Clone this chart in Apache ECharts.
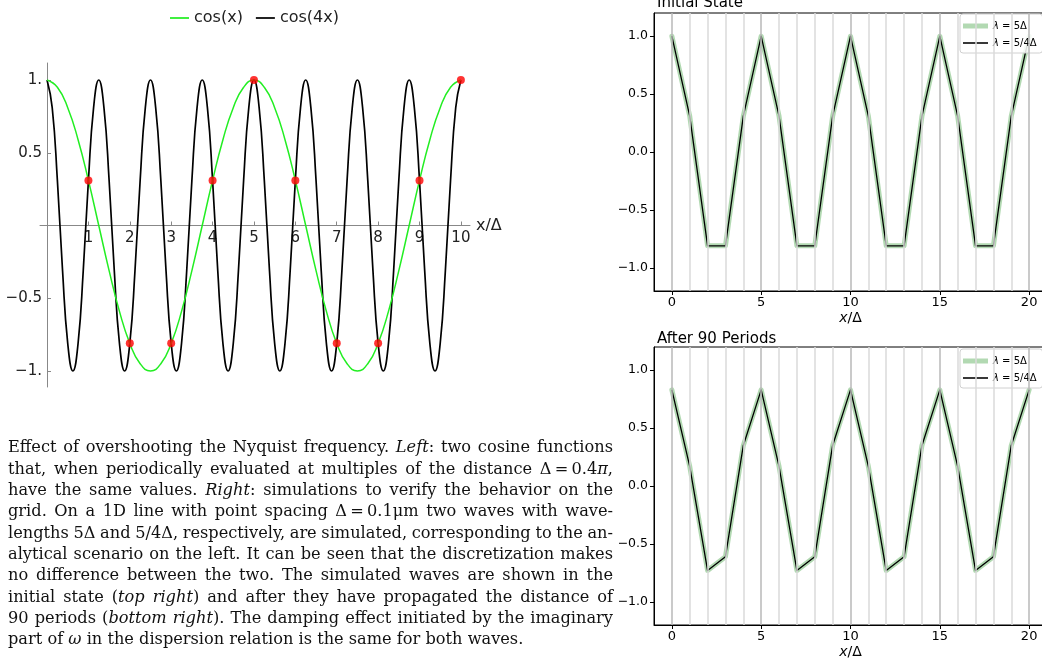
<!DOCTYPE html>
<html>
<head>
<meta charset="utf-8">
<script src="https://cdn.jsdelivr.net/npm/echarts@6/dist/echarts.min.js"></script>
<style>
  html, body { margin: 0; padding: 0; background: #fff; }
  #chart { width: 1042px; height: 664px; }
</style>
</head>
<body>
<div id="chart"></div>
<script>
// left panel: cos(x) and cos(4x) sampled along x/Δ (Δ = 0.4π)
const fineStep = 0.125;
const coarseStep = 0.25;
const cos4xValues = [
  1, 0.81, 0.31, -0.31, -0.81, -1, -0.81, -0.31, 0.31, 0.81,
  1, 0.81, 0.31, -0.31, -0.81, -1, -0.81, -0.31, 0.31, 0.81,
  1, 0.81, 0.31, -0.31, -0.81, -1, -0.81, -0.31, 0.31, 0.81,
  1, 0.81, 0.31, -0.31, -0.81, -1, -0.81, -0.31, 0.31, 0.81,
  1, 0.81, 0.31, -0.31, -0.81, -1, -0.81, -0.31, 0.31, 0.81,
  1, 0.81, 0.31, -0.31, -0.81, -1, -0.81, -0.31, 0.31, 0.81,
  1, 0.81, 0.31, -0.31, -0.81, -1, -0.81, -0.31, 0.31, 0.81,
  1, 0.81, 0.31, -0.31, -0.81, -1, -0.81, -0.31, 0.31, 0.81,
  1
];
const cosxValues = [
  1, 0.95, 0.81, 0.59, 0.31, 0, -0.31, -0.59, -0.81, -0.95,
  -1, -0.95, -0.81, -0.59, -0.31, 0, 0.31, 0.59, 0.81, 0.95,
  1, 0.95, 0.81, 0.59, 0.31, 0, -0.31, -0.59, -0.81, -0.95,
  -1, -0.95, -0.81, -0.59, -0.31, 0, 0.31, 0.59, 0.81, 0.95,
  1
];
const sampleX = [1, 2, 3, 4, 5, 6, 7, 8, 9, 10];
const sampleValues = [0.31, -0.81, -0.81, 0.31, 1, 0.31, -0.81, -0.81, 0.31, 1];
const leftXTicks = [1, 2, 3, 4, 5, 6, 7, 8, 9, 10];
const leftYTicks = [-1, -0.5, 0.5, 1];

// right panels: simulated waves on the grid points
const gridX = [0, 1, 2, 3, 4, 5, 6, 7, 8, 9, 10, 11, 12, 13, 14, 15, 16, 17, 18, 19, 20];
const initialLong = [1, 0.31, -0.81, -0.81, 0.31, 1, 0.31, -0.81, -0.81, 0.31, 1, 0.31, -0.81, -0.81, 0.31, 1, 0.31, -0.81, -0.81, 0.31, 1];
const initialShort = [1, 0.31, -0.81, -0.81, 0.31, 1, 0.31, -0.81, -0.81, 0.31, 1, 0.31, -0.81, -0.81, 0.31, 1, 0.31, -0.81, -0.81, 0.31, 1];
const afterLong = [0.83, 0.17, -0.73, -0.61, 0.35, 0.83, 0.17, -0.73, -0.61, 0.35, 0.83, 0.17, -0.73, -0.61, 0.35, 0.83, 0.17, -0.73, -0.61, 0.35, 0.83];
const afterShort = [0.83, 0.17, -0.73, -0.61, 0.35, 0.83, 0.17, -0.73, -0.61, 0.35, 0.83, 0.17, -0.73, -0.61, 0.35, 0.83, 0.17, -0.73, -0.61, 0.35, 0.83];
const rightXTicks = [0, 5, 10, 15, 20];
const rightYTicks = [-1, -0.5, 0, 0.5, 1];

const captionLines = [
  'Effect of overshooting the Nyquist frequency. {i|Left}: two cosine functions',
  'that, when periodically evaluated at multiples of the distance Δ\u2009=\u20090.4{i|π},',
  'have the same values. {i|Right}: simulations to verify the behavior on the',
  'grid. On a 1D line with point spacing Δ\u2009=\u20090.1μm two waves with wave-',
  'lengths 5Δ and 5/4Δ, respectively, are simulated, corresponding to the an-',
  'alytical scenario on the left. It can be seen that the discretization makes',
  'no difference between the two. The simulated waves are shown in the',
  'initial state ({i|top} {i|right}) and after they have propagated the distance of',
  '90 periods ({i|bottom} {i|right}). The damping effect initiated by the imaginary',
  'part of {i|ω} in the dispersion relation is the same for both waves.'
];

const sans = '"DejaVu Sans", sans-serif';
const serif = '"DejaVu Serif", serif';
const pairs = (xs, ys) => ys.map((y, i) => [xs[i], y]);
const stepX = (ys, step) => ys.map((_, i) => i * step);
const minus = v => (v < 0 ? '\u2212' : '') + Math.abs(v);
const lineIcon = 'path://M0,0H11V1H0Z';
const thinIcon = 'path://M0,0H16V1H0Z';
const thickIcon = 'path://M0,0H5V1H0Z';

// justified caption, laid out word by word
const paraSize = 16.2, paraLeft = 8, paraRight = 613, paraTop = 448, paraLead = 21.35;
const ctx = document.createElement('canvas').getContext('2d');
function segments(word) {
  const out = [];
  const re = /\{i\|([^}]*)\}/g;
  let last = 0, m;
  while ((m = re.exec(word))) {
    if (m.index > last) out.push([word.slice(last, m.index), false]);
    out.push([m[1], true]);
    last = re.lastIndex;
  }
  if (last < word.length) out.push([word.slice(last), false]);
  return out;
}
function wordWidth(word, size) {
  return segments(word).reduce((s, [t, it]) => {
    ctx.font = (it ? 'italic ' : '') + size + 'px ' + serif;
    return s + ctx.measureText(t).width;
  }, 0);
}
const caption = [];
captionLines.forEach((line, li) => {
  const words = line.split(' ');
  let size = paraSize;
  let widths = words.map(w => wordWidth(w, size));
  let total = widths.reduce((a, b) => a + b, 0);
  // squeeze the font a little if a line would not fit
  while (total + 2.5 * (words.length - 1) > paraRight - paraLeft && size > 10) {
    size -= 0.2;
    widths = words.map(w => wordWidth(w, size));
    total = widths.reduce((a, b) => a + b, 0);
  }
  ctx.font = size + 'px ' + serif;
  const last = li === captionLines.length - 1;
  const gap = last ? ctx.measureText(' ').width : (paraRight - paraLeft - total) / (words.length - 1);
  let x = paraLeft;
  words.forEach((w, wi) => {
    caption.push({
      type: 'text', x: x, y: paraTop + li * paraLead, silent: true,
      style: {
        text: w, fill: '#111', fontSize: size, fontFamily: serif, verticalAlign: 'middle',
        rich: { i: { fontStyle: 'italic', fontSize: size, fontFamily: serif, fill: '#111' } }
      }
    });
    x += widths[wi] + gap;
  });
});

const gridLines = gridX.map(x => ({
  xAxis: x,
  lineStyle: { color: x % 5 === 0 ? '#b9b9b9' : '#dadada', width: 1.5, type: 'solid' }
}));

function rightPanel(idx, longVals, shortVals) {
  return [
    {
      type: 'line', xAxisIndex: idx, yAxisIndex: idx, data: [], z: 1, silent: true,
      markLine: { silent: true, symbol: ['none', 'none'], label: { show: false }, data: gridLines }
    },
    {
      name: 'λ = 5Δ', type: 'line', xAxisIndex: idx, yAxisIndex: idx, z: 2,
      data: pairs(gridX, longVals), symbol: 'none', showSymbol: false,
      lineStyle: { color: 'rgba(0,128,0,0.3)', width: 5, join: 'round', cap: 'round' },
      itemStyle: { color: 'rgba(0,128,0,0.3)' }
    },
    {
      name: 'λ = 5/4Δ', type: 'line', xAxisIndex: idx, yAxisIndex: idx, z: 3,
      data: pairs(gridX, shortVals), symbol: 'none', showSymbol: false,
      lineStyle: { color: '#000', width: 1.3, join: 'round' },
      itemStyle: { color: '#000' }
    }
  ];
}

function rightXAxis(idx) {
  return {
    gridIndex: idx, type: 'value', min: -1, max: 21,
    axisLine: { onZero: false, lineStyle: { color: '#000', width: 1 } },
    axisTick: { customValues: rightXTicks, length: 4, lineStyle: { color: '#000' } },
    axisLabel: { customValues: rightXTicks, margin: 5, fontSize: 13, color: '#000', fontFamily: sans },
    splitLine: { show: false },
    name: '{i|x}/Δ', nameLocation: 'middle', nameGap: 20,
    nameTextStyle: { fontSize: 14, color: '#000', fontFamily: sans,
      rich: { i: { fontStyle: 'italic', fontSize: 14, fontFamily: sans, color: '#000' } } }
  };
}
function rightYAxis(idx) {
  return {
    gridIndex: idx, type: 'value', min: -1.2, max: 1.2,
    axisLine: { onZero: false, lineStyle: { color: '#000', width: 1 } },
    axisTick: { customValues: rightYTicks, length: 4, lineStyle: { color: '#000' } },
    axisLabel: {
      customValues: rightYTicks, margin: 6, fontSize: 12.5, color: '#000', fontFamily: sans,
      formatter: v => (v < 0 ? '\u2212' : '') + Math.abs(v).toFixed(1)
    },
    splitLine: { show: false }
  };
}
function rightLegend(top) {
  return {
    orient: 'vertical', left: 960, top: top,
    data: [
      { name: 'λ = 5Δ', icon: thickIcon },
      { name: 'λ = 5/4Δ', icon: thinIcon }
    ],
    itemWidth: 25, itemHeight: 10, itemGap: 7,
    padding: [7, 6, 5, 3],
    backgroundColor: 'rgba(255,255,255,0.85)', borderColor: '#d0d0d0', borderWidth: 1, borderRadius: 3,
    formatter: name => name.replace('λ', '{i|λ}'),
    textStyle: { fontSize: 10, color: '#000', fontFamily: sans,
      rich: { i: { fontStyle: 'italic', fontSize: 10, fontFamily: sans, color: '#000' } } }
  };
}

const chart = echarts.init(document.getElementById('chart'));
chart.setOption({
  animation: false,
  backgroundColor: '#fff',
  title: [
    { text: 'Initial State', left: 652, top: -9, textStyle: { fontSize: 15, fontWeight: 'normal', color: '#000', fontFamily: sans } },
    { text: 'After 90 Periods', left: 652, top: 327, textStyle: { fontSize: 15, fontWeight: 'normal', color: '#000', fontFamily: sans } }
  ],
  legend: [
    {
      data: [{ name: 'cos(x)', icon: lineIcon }, { name: 'cos(4x)', icon: lineIcon }],
      left: 165, top: 5,
      itemWidth: 19, itemHeight: 14, itemGap: 13,
      textStyle: { fontSize: 16, color: '#222', fontFamily: sans }
    },
    rightLegend(14),
    rightLegend(349)
  ],
  grid: [
    { left: 40, top: 63, width: 430, height: 324, outerBoundsMode: 'none' },
    { left: 654, top: 13, width: 393, height: 278, show: true, borderColor: '#000', borderWidth: 1, backgroundColor: 'transparent', outerBoundsMode: 'none' },
    { left: 654, top: 347, width: 393, height: 278, show: true, borderColor: '#000', borderWidth: 1, backgroundColor: 'transparent', outerBoundsMode: 'none' }
  ],
  xAxis: [
    {
      gridIndex: 0, type: 'value', min: -0.17, max: 10.22, position: 'bottom', offset: -161.5,
      axisLine: { onZero: false, lineStyle: { color: '#888', width: 1 } },
      axisTick: { inside: true, length: 4, customValues: leftXTicks, lineStyle: { color: '#888' } },
      axisLabel: { customValues: leftXTicks, margin: 5, fontSize: 15, color: '#222', fontFamily: sans },
      splitLine: { show: false },
      name: 'x/Δ', nameLocation: 'end', nameGap: 6,
      nameTextStyle: { fontSize: 16, color: '#222', fontFamily: sans }
    },
    rightXAxis(1),
    rightXAxis(2)
  ],
  yAxis: [
    {
      gridIndex: 0, type: 'value', min: -1.11, max: 1.117, position: 'left', offset: -7,
      axisLine: { onZero: false, lineStyle: { color: '#888', width: 1 } },
      axisTick: { inside: true, length: 4, customValues: leftYTicks, lineStyle: { color: '#888' } },
      axisLabel: {
        customValues: leftYTicks, margin: 5, fontSize: 15, color: '#222', fontFamily: sans,
        formatter: v => (Math.abs(v) === 1 ? minus(v) + '.' : minus(v))
      },
      splitLine: { show: false }
    },
    rightYAxis(1),
    rightYAxis(2)
  ],
  series: [
    {
      name: 'cos(4x)', type: 'line', xAxisIndex: 0, yAxisIndex: 0, z: 2,
      data: pairs(stepX(cos4xValues, fineStep), cos4xValues),
      smooth: 0.5, symbol: 'none', showSymbol: false,
      lineStyle: { color: '#000', width: 1.7 }, itemStyle: { color: '#000' }
    },
    {
      name: 'cos(x)', type: 'line', xAxisIndex: 0, yAxisIndex: 0, z: 3,
      data: pairs(stepX(cosxValues, coarseStep), cosxValues),
      smooth: 0.5, symbol: 'none', showSymbol: false,
      lineStyle: { color: '#22ee22', width: 1.5 }, itemStyle: { color: '#22ee22' }
    },
    {
      name: 'samples', type: 'scatter', xAxisIndex: 0, yAxisIndex: 0, z: 4,
      data: pairs(sampleX, sampleValues), symbolSize: 8,
      itemStyle: { color: '#ff0000' }
    },
    ...rightPanel(1, initialLong, initialShort),
    ...rightPanel(2, afterLong, afterShort)
  ],
  graphic: caption
});
</script>
</body>
</html>
